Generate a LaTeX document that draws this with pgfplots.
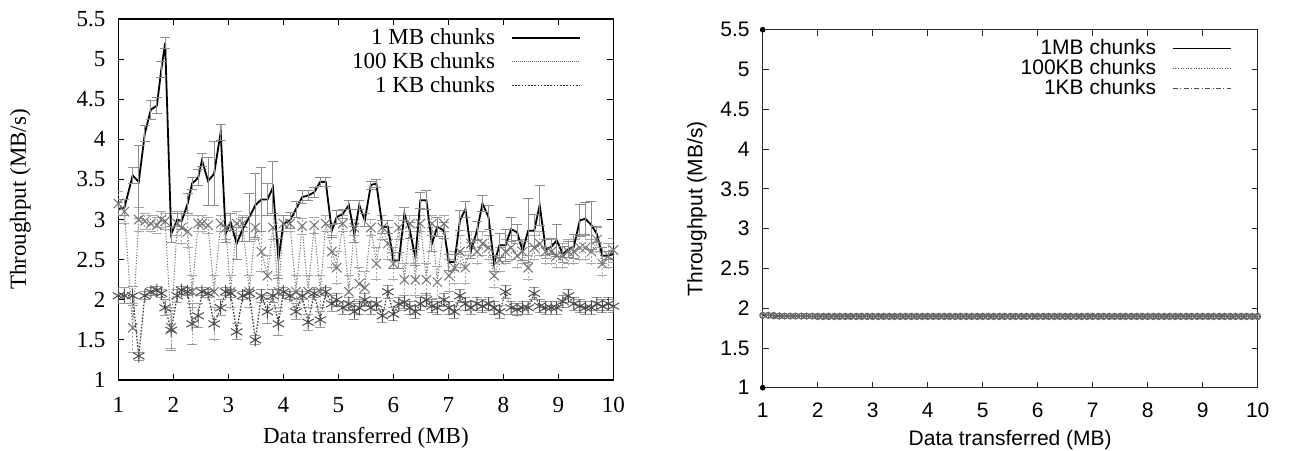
\documentclass[border=0pt]{standalone}
\usepackage{pgfplots}
\pgfplotsset{compat=1.18}
\usepackage{pgfplotstable}
\usepackage{fontspec}
\setmainfont{Liberation Serif}
\newfontfamily\arial{Liberation Sans}

% left panel: x, 1MB (+err), 100KB (+err), 1KB (+err)
\pgfplotstableread{
x mb mbe ka kae kb kbe
1.00 3.13 0.08 3.20 0.15 2.05 0.10
1.11 3.15 0.10 3.10 0.15 2.05 0.10
1.26 3.55 0.10 1.65 0.30 2.05 0.12
1.37 3.47 0.45 3.00 0.15 1.30 0.05
1.48 4.07 0.10 2.98 0.10 2.05 0.05
1.59 4.37 0.12 2.95 0.10 2.10 0.05
1.70 4.42 0.10 2.93 0.10 2.12 0.05
1.78 4.87 0.10 3.00 0.10 2.08 0.05
1.85 5.20 0.07 2.98 0.10 1.90 0.10
1.96 2.82 0.10 1.65 0.25 1.62 0.25
2.07 3.00 0.08 2.95 0.15 2.05 0.08
2.15 2.98 0.10 2.90 0.20 2.12 0.05
2.26 3.20 0.12 2.85 0.20 2.10 0.05
2.34 3.45 0.08 2.10 0.20 1.70 0.25
2.45 3.52 0.10 2.95 0.10 1.80 0.15
2.52 3.74 0.08 2.95 0.10 2.10 0.05
2.63 3.48 0.30 2.93 0.10 2.08 0.05
2.74 3.57 0.40 2.10 0.20 1.70 0.20
2.86 4.09 0.10 2.95 0.10 1.90 0.10
2.95 2.82 0.10 2.90 0.15 2.10 0.05
3.04 2.97 0.10 2.10 0.20 2.08 0.05
3.15 2.70 0.20 2.95 0.15 1.60 0.10
3.26 2.88 0.15 2.95 0.10 2.05 0.05
3.38 3.03 0.30 2.10 0.20 2.08 0.05
3.49 3.18 0.40 2.90 0.15 1.50 0.05
3.60 3.25 0.40 2.60 0.25 2.05 0.08
3.71 3.25 0.20 2.30 0.25 1.85 0.15
3.81 3.40 0.32 2.90 0.15 2.05 0.08
3.91 2.51 0.25 2.10 0.20 1.70 0.15
4.00 2.95 0.10 2.95 0.10 2.10 0.05
4.12 2.99 0.10 2.95 0.10 2.05 0.05
4.23 3.13 0.10 2.10 0.20 1.85 0.10
4.34 3.28 0.08 2.92 0.10 2.05 0.05
4.45 3.30 0.06 2.10 0.20 1.72 0.10
4.56 3.34 0.06 2.93 0.10 2.08 0.05
4.67 3.47 0.06 2.10 0.20 1.75 0.10
4.77 3.47 0.06 2.95 0.10 2.10 0.05
4.88 2.86 0.08 2.60 0.20 1.95 0.10
4.97 3.03 0.08 2.40 0.20 2.00 0.08
5.08 3.07 0.06 2.95 0.10 1.90 0.08
5.19 3.18 0.06 2.10 0.20 1.95 0.08
5.29 2.82 0.10 2.90 0.10 1.85 0.10
5.38 3.18 0.06 2.20 0.20 1.90 0.08
5.48 2.99 0.08 2.15 0.20 2.00 0.08
5.59 3.43 0.05 2.90 0.10 1.90 0.08
5.69 3.45 0.05 2.45 0.20 1.95 0.08
5.80 2.91 0.08 2.90 0.15 1.80 0.08
5.90 2.91 0.08 2.70 0.20 2.10 0.08
6.00 2.49 0.10 2.45 0.20 1.82 0.08
6.10 2.49 0.10 2.90 0.15 1.95 0.08
6.20 3.07 0.08 2.25 0.20 1.97 0.08
6.30 2.86 0.10 2.95 0.10 1.90 0.08
6.40 2.53 0.10 2.25 0.20 1.85 0.08
6.49 3.24 0.10 2.95 0.10 1.95 0.08
6.60 3.24 0.12 2.25 0.20 2.00 0.08
6.70 2.70 0.10 2.95 0.10 1.92 0.08
6.80 2.91 0.12 2.22 0.20 1.90 0.08
6.92 2.86 0.10 2.95 0.10 2.00 0.08
7.01 2.47 0.10 2.30 0.20 1.90 0.08
7.11 2.47 0.10 2.40 0.20 1.85 0.08
7.21 2.99 0.12 2.60 0.20 2.05 0.08
7.31 3.13 0.10 2.40 0.20 1.95 0.08
7.41 2.61 0.10 2.70 0.15 1.90 0.08
7.52 2.86 0.12 2.60 0.15 1.95 0.08
7.62 3.20 0.10 2.70 0.15 1.92 0.08
7.73 3.03 0.15 2.65 0.15 1.95 0.08
7.83 2.45 0.10 2.30 0.15 1.90 0.08
7.93 2.68 0.15 2.50 0.15 1.85 0.08
8.04 2.68 0.20 2.60 0.15 2.10 0.08
8.14 2.88 0.15 2.65 0.15 1.90 0.08
8.25 2.84 0.10 2.55 0.15 1.88 0.08
8.35 2.61 0.12 2.60 0.15 1.90 0.08
8.45 2.86 0.40 2.40 0.15 1.90 0.08
8.56 2.86 0.20 2.65 0.15 2.08 0.08
8.66 3.18 0.25 2.70 0.15 1.92 0.08
8.77 2.63 0.12 2.60 0.15 1.90 0.08
8.87 2.66 0.10 2.60 0.15 1.90 0.08
8.97 2.74 0.20 2.55 0.15 1.90 0.08
9.08 2.57 0.10 2.55 0.15 1.98 0.08
9.18 2.63 0.10 2.60 0.15 2.05 0.08
9.28 2.66 0.15 2.60 0.15 1.95 0.08
9.39 2.99 0.20 2.65 0.15 1.92 0.08
9.49 3.01 0.20 2.65 0.15 1.90 0.08
9.60 2.93 0.30 2.60 0.15 1.90 0.08
9.70 2.82 0.10 2.75 0.15 1.95 0.08
9.80 2.55 0.10 2.45 0.15 1.92 0.08
9.91 2.55 0.05 2.55 0.15 1.95 0.08
10.00 2.57 0.05 2.62 0.15 1.92 0.08
}\leftdata

% right panel: all three runs sit flat near 1.9
\pgfplotstableread{
x a b c
1.0 1.91 1.92 1.91
1.1 1.91 1.91 1.91
1.2 1.91 1.91 1.90
1.3 1.90 1.91 1.90
1.4 1.90 1.90 1.90
1.5 1.90 1.90 1.90
1.6 1.90 1.90 1.90
1.7 1.90 1.90 1.90
1.8 1.90 1.90 1.90
1.9 1.90 1.90 1.90
2.0 1.90 1.90 1.89
2.1 1.90 1.90 1.89
2.2 1.90 1.90 1.89
2.3 1.90 1.90 1.89
2.4 1.90 1.90 1.89
2.5 1.90 1.90 1.89
2.6 1.90 1.90 1.89
2.7 1.90 1.90 1.89
2.8 1.90 1.90 1.89
2.9 1.90 1.90 1.89
3.0 1.90 1.90 1.89
3.1 1.90 1.90 1.89
3.2 1.90 1.90 1.89
3.3 1.90 1.90 1.89
3.4 1.90 1.90 1.89
3.5 1.90 1.90 1.89
3.6 1.90 1.90 1.89
3.7 1.90 1.90 1.89
3.8 1.90 1.90 1.89
3.9 1.90 1.90 1.89
4.0 1.90 1.90 1.89
4.1 1.90 1.90 1.89
4.2 1.90 1.90 1.89
4.3 1.90 1.90 1.89
4.4 1.90 1.90 1.89
4.5 1.90 1.90 1.89
4.6 1.90 1.90 1.89
4.7 1.90 1.90 1.89
4.8 1.90 1.90 1.89
4.9 1.90 1.90 1.89
5.0 1.90 1.90 1.89
5.1 1.90 1.90 1.89
5.2 1.90 1.90 1.89
5.3 1.90 1.90 1.89
5.4 1.90 1.90 1.89
5.5 1.90 1.90 1.89
5.6 1.90 1.90 1.89
5.7 1.90 1.90 1.89
5.8 1.90 1.90 1.89
5.9 1.90 1.90 1.89
6.0 1.90 1.90 1.89
6.1 1.90 1.90 1.89
6.2 1.90 1.90 1.89
6.3 1.90 1.90 1.89
6.4 1.90 1.90 1.89
6.5 1.90 1.90 1.89
6.6 1.90 1.90 1.89
6.7 1.90 1.90 1.89
6.8 1.90 1.90 1.89
6.9 1.90 1.90 1.89
7.0 1.90 1.90 1.89
7.1 1.90 1.90 1.89
7.2 1.90 1.90 1.89
7.3 1.90 1.90 1.89
7.4 1.90 1.90 1.89
7.5 1.90 1.90 1.89
7.6 1.90 1.90 1.89
7.7 1.90 1.90 1.89
7.8 1.90 1.90 1.89
7.9 1.90 1.90 1.89
8.0 1.90 1.90 1.89
8.1 1.90 1.90 1.89
8.2 1.90 1.90 1.89
8.3 1.90 1.90 1.89
8.4 1.90 1.90 1.89
8.5 1.90 1.90 1.89
8.6 1.90 1.90 1.89
8.7 1.90 1.90 1.89
8.8 1.90 1.90 1.89
8.9 1.90 1.90 1.89
9.0 1.90 1.90 1.89
9.1 1.90 1.90 1.89
9.2 1.90 1.90 1.89
9.3 1.90 1.90 1.89
9.4 1.90 1.90 1.89
9.5 1.90 1.90 1.89
9.6 1.90 1.90 1.89
9.7 1.90 1.90 1.89
9.8 1.90 1.90 1.89
9.9 1.90 1.90 1.89
10.0 1.90 1.90 1.89
}\rightdata

\pgfplotsset{
  gp/.style={
    scale only axis, width=247.5pt,
    xmin=1, xmax=10, ymin=1, ymax=5.5,
    xtick={1,...,10}, ytick={1,1.5,...,5.5},
    tick align=inside, major tick length=3pt,
    /pgf/number format/assume math mode=true,
    legend cell align=right,
    legend plot pos=right,
  },
}

\begin{document}
\begin{tikzpicture}
\useasboundingbox (0,0) rectangle (645pt,225pt);

%% left: serif gnuplot figure
\begin{axis}[gp,
  at={(59.2pt,35pt)}, anchor=south west, height=180.5pt,
  axis line style={line width=0.6pt},
  tick style={line width=0.5pt, black},
  tick label style={font=\fontsize{11.5}{13}\selectfont},
  xticklabel style={yshift=-5pt},
  yticklabel style={xshift=-3pt},
  label style={font=\fontsize{11.5}{13}\selectfont},
  xlabel={Data transferred (MB)},
  ylabel={Throughput (MB/s)},
  xlabel style={at={(axis description cs:0.5,-0.16)}, anchor=center},
  ylabel style={at={(axis description cs:-0.198,0.5)}, anchor=center},
  legend style={at={(rel axis cs:1,1)}, anchor=north east, xshift=-13pt, yshift=-0.5pt,
    draw=none, fill=none, font=\fontsize{11.5}{13}\selectfont, row sep=-1.5pt},
  legend image code/.code={\path (0pt,0pt); \draw[#1] (6pt,0pt) -- (40pt,0pt);},
]
\addlegendimage{black, line width=0.9pt}
\addlegendentry{1 MB chunks}
\addlegendimage{black!60, line width=0.5pt, dash pattern=on 0.5pt off 0.5pt}
\addlegendentry{100 KB chunks}
\addlegendimage{black!80, line width=0.6pt, dash pattern=on 0.8pt off 0.8pt}
\addlegendentry{1 KB chunks}

% 100 KB chunks
\addplot[forget plot, black!55, line width=0.5pt, dash pattern=on 0.6pt off 0.8pt,
  mark=x, mark size=3.3pt, mark options={solid, black!55, line width=0.5pt},
  error bars/.cd, y dir=both, y explicit,
  error bar style={black!35, line width=0.4pt, dash pattern=on 1pt off 1pt},
  error mark options={rotate=90, black!35, mark size=2.5pt, solid}]
  table[x=x, y=ka, y error=kae] {\leftdata};
% 1 KB chunks
\addplot[forget plot, black!80, line width=0.6pt, dash pattern=on 0.8pt off 0.8pt,
  mark=asterisk, mark size=3.3pt, mark options={solid, black!70, line width=0.5pt},
  error bars/.cd, y dir=both, y explicit,
  error bar style={black!40, line width=0.4pt},
  error mark options={rotate=90, black!40, mark size=2.5pt}]
  table[x=x, y=kb, y error=kbe] {\leftdata};
% 1 MB chunks
\addplot[forget plot, black, line width=0.9pt, mark=none,
  error bars/.cd, y dir=both, y explicit,
  error bar style={black!45, line width=0.45pt},
  error mark options={rotate=90, black!45, mark size=2.5pt, line width=0.45pt}]
  table[x=x, y=mb, y error=mbe] {\leftdata};
\end{axis}

%% right: sans gnuplot figure
\begin{axis}[gp,
  at={(381.35pt,31.15pt)}, anchor=south west, height=179pt,
  clip=false,
  axis line style={line width=0.5pt, black!85},
  tick style={line width=0.4pt, black!85},
  tick label style={font=\arial\fontsize{10.5}{12}\selectfont},
  xticklabel style={yshift=-4pt},
  yticklabel style={xshift=-3pt},
  label style={font=\arial\fontsize{10.5}{12}\selectfont},
  xlabel={Data transferred (MB)},
  ylabel={Throughput (MB/s)},
  xlabel style={at={(axis description cs:0.5,-0.145)}, anchor=center},
  ylabel style={at={(axis description cs:-0.133,0.5)}, anchor=center},
  legend style={at={(rel axis cs:1,1)}, anchor=north east, xshift=-10pt, yshift=-0.5pt,
    draw=none, fill=none, font=\arial\fontsize{10.5}{12}\selectfont, row sep=-3pt},
  legend image code/.code={\path (0pt,0pt); \draw[#1] (6pt,0pt) -- (35pt,0pt);},
]
\addlegendimage{black, line width=0.6pt}
\addlegendentry{1MB chunks}
\addlegendimage{black!70, line width=0.5pt, dash pattern=on 0.5pt off 0.8pt}
\addlegendentry{100KB chunks}
\addlegendimage{black!70, line width=0.5pt, dash pattern=on 2.5pt off 1.2pt on 0.5pt off 1.2pt}
\addlegendentry{1KB chunks}

\addplot[forget plot, black!70, line width=0.5pt, dash pattern=on 2.5pt off 1.2pt on 0.5pt off 1.2pt,
  mark=o, mark size=1.4pt, mark options={solid, black!55}]
  table[x=x, y=c] {\rightdata};
\addplot[forget plot, black!70, line width=0.5pt, dash pattern=on 0.5pt off 0.8pt,
  mark=+, mark size=1.6pt, mark options={solid, black!60}]
  table[x=x, y=b] {\rightdata};
\addplot[forget plot, black, line width=0.6pt, mark=o, mark size=1.4pt, mark options={black!60}]
  table[x=x, y=a] {\rightdata};
% the two stray points gnuplot left on the y axis
\addplot[forget plot, only marks, mark=*, mark size=1.2pt, black] coordinates {(1,5.5) (1,1)};
\end{axis}
\end{tikzpicture}
\end{document}
